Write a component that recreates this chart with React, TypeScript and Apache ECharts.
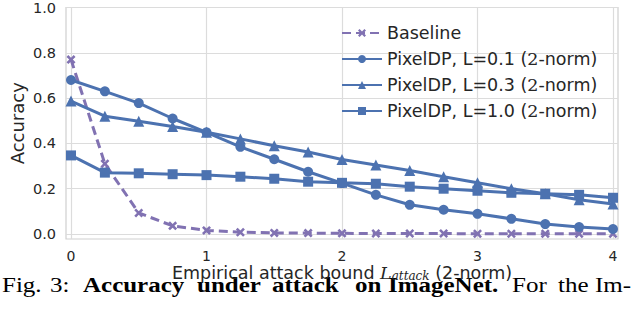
import React, { useEffect, useRef } from 'react';
import * as echarts from 'echarts';

const xValues = [0, 0.25, 0.5, 0.75, 1, 1.25, 1.5, 1.75, 2, 2.25, 2.5, 2.75, 3, 3.25, 3.5, 3.75, 4];
const baseline = [0.77, 0.31, 0.093, 0.036, 0.016, 0.008, 0.005, 0.004, 0.003, 0.002, 0.002, 0.002, 0.001, 0.001, 0.001, 0.001, 0.001];
const pixelL01 = [0.68, 0.63, 0.578, 0.51, 0.449, 0.385, 0.33, 0.275, 0.225, 0.173, 0.129, 0.107, 0.089, 0.067, 0.044, 0.031, 0.022];
const pixelL03 = [0.587, 0.52, 0.498, 0.475, 0.449, 0.42, 0.39, 0.362, 0.329, 0.305, 0.28, 0.253, 0.226, 0.2, 0.178, 0.151, 0.133];
const pixelL10 = [0.347, 0.271, 0.268, 0.264, 0.26, 0.253, 0.244, 0.231, 0.226, 0.222, 0.209, 0.2, 0.191, 0.182, 0.178, 0.173, 0.16];
const seriesNames = ['Baseline', 'PixelDP, L=0.1 (2-norm)', 'PixelDP, L=0.3 (2-norm)', 'PixelDP, L=1.0 (2-norm)'];
const xTicks = [0, 1, 2, 3, 4];
const yTicks = [0, 0.2, 0.4, 0.6, 0.8, 1.0];
const captionWords = ['Fig.', '3:', 'Accuracy', 'under', 'attack', 'on', 'ImageNet.', 'For', 'the', 'Im-'];
const captionBold = [false, false, true, true, true, true, true, false, false, false];

const BLUE = '#4c72b0';
const PURPLE = '#8172b2';
const TEXT = '#262626';
const GRID = '#dcdcdc';
const X_SYMBOL = 'path://M2,0 L5,3 L8,0 L10,2 L7,5 L10,8 L8,10 L5,7 L2,10 L0,8 L3,5 L0,2 Z';
const CAPTION_X = [2, 50, 83, 197, 272, 355, 388, 512, 558, 595];

const pairs = (ys: number[]) => xValues.map((x, i) => [x, ys[i]]);

export default function App() {
  const ref = useRef<HTMLDivElement>(null);
  useEffect(() => {
    if (!ref.current) return;
    const chart = echarts.init(ref.current, undefined, { renderer: 'svg' });
    const mkSeries = (name: string, data: number[], color: string, symbol: string, size: number, dashed = false) => ({
      name,
      type: 'line',
      data: pairs(data),
      symbol,
      symbolSize: size,
      clip: false,
      itemStyle: { color },
      lineStyle: { color, width: 3, type: dashed ? [9, 5] : 'solid' },
      z: dashed ? 1 : 2,
    });
    chart.setOption({
      animation: false,
      textStyle: { fontFamily: 'DejaVu Sans', color: TEXT },
      grid: { left: 66, right: 14, top: 7, bottom: 71, show: true, borderColor: '#cfcfcf', borderWidth: 1.2 },
      xAxis: {
        type: 'value',
        min: -0.037,
        max: 4.037,
        axisLine: { show: false },
        axisTick: { show: false, customValues: xTicks },
        axisLabel: { customValues: xTicks, fontSize: 14, lineHeight: 15, color: TEXT, margin: 9, formatter: (v: number) => String(v) },
        splitLine: { show: true, lineStyle: { color: GRID, width: 1.2 } },
        name: '{n|Empirical attack bound }{L|L}{s|attack}{n| (2-norm)}',
        nameLocation: 'middle',
        nameGap: 25,
        nameMoveOverlap: false,
        nameTextStyle: {
          fontSize: 17,
          color: TEXT,
          rich: {
            n: { fontSize: 17.5, lineHeight: 17, fontFamily: 'DejaVu Sans', color: TEXT },
            L: { fontSize: 17.5, lineHeight: 17, fontFamily: 'DejaVu Serif', fontStyle: 'italic', color: TEXT },
            s: { fontSize: 12, lineHeight: 12, fontFamily: 'DejaVu Serif', fontStyle: 'italic', color: TEXT, padding: [6, 0, 0, 0] },
          },
        },
      },
      yAxis: {
        type: 'value',
        min: -0.022,
        max: 1.0,
        axisLine: { show: false },
        axisTick: { show: false, customValues: yTicks },
        axisLabel: { customValues: yTicks, fontSize: 14.5, color: TEXT, margin: 10, formatter: (v: number) => v.toFixed(1) },
        splitLine: { show: true, lineStyle: { color: GRID, width: 1.2 } },
        name: 'Accuracy',
        nameLocation: 'middle',
        nameGap: 40,
        nameMoveOverlap: false,
        nameTextStyle: { fontSize: 18, color: TEXT },
      },
      legend: {
        orient: 'vertical',
        left: 336,
        top: 19,
        itemWidth: 40,
        itemHeight: 10,
        itemGap: 8,
        data: seriesNames,
        formatter: (name: string) => name.replace('(2-norm)', '({m|2}-norm)'),
        textStyle: {
          fontSize: 17.5,
          color: TEXT,
          fontFamily: 'DejaVu Sans',
          rich: { m: { fontSize: 17.5, fontFamily: 'DejaVu Serif', color: TEXT } },
        },
      },
      series: [
        mkSeries(seriesNames[0], baseline, PURPLE, X_SYMBOL, 9, true),
        mkSeries(seriesNames[1], pixelL01, BLUE, 'circle', 10),
        mkSeries(seriesNames[2], pixelL03, BLUE, 'triangle', 11),
        mkSeries(seriesNames[3], pixelL10, BLUE, 'rect', 10),
      ],
      graphic: captionWords.map((w, i) => ({
        type: 'text',
        x: CAPTION_X[i],
        y: 285,
        scaleX: 1.25,
        style: {
          text: w,
          x: 0,
          y: 0,
          verticalAlign: 'middle',
          font: (captionBold[i] ? 'bold ' : '') + '20px "Liberation Serif"',
          fill: '#000',
        },
      })),
    });
    return () => chart.dispose();
  }, []);
  return <div ref={ref} style={{ position: 'absolute', left: 0, top: 0, width: 632, height: 310, background: '#fff' }} />;
}
